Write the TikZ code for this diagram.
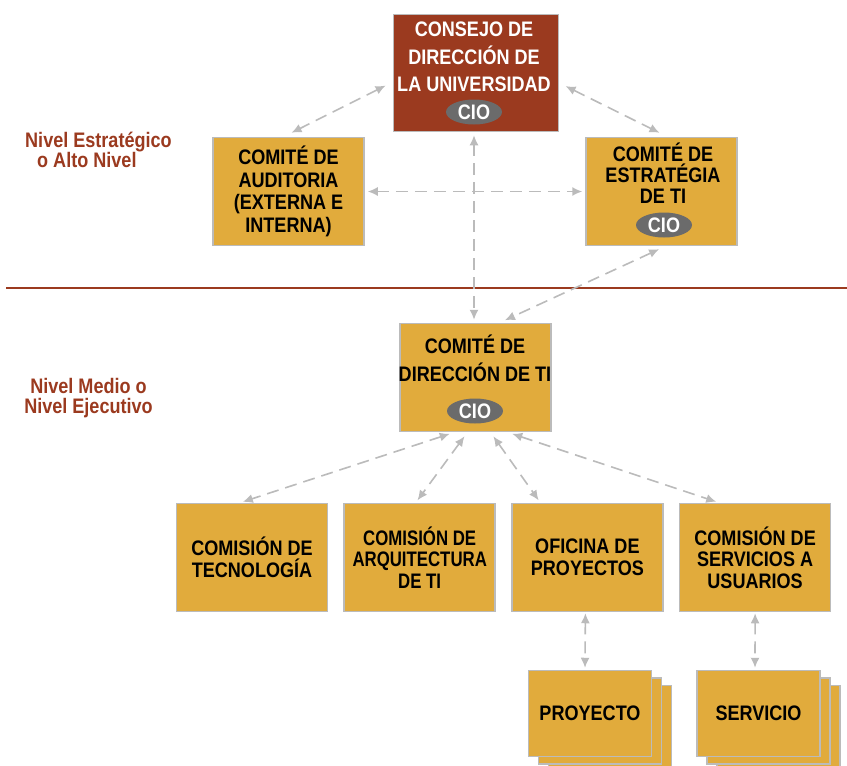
\documentclass[tikz,border=0pt]{standalone}
\usepackage{fontspec}
\setmainfont{Liberation Sans}[FakeStretch=0.86]
\usepackage{tikz}
\usetikzlibrary{shapes.geometric, arrows.meta, positioning}
\definecolor{ocre}{HTML}{E1AB3C}
\definecolor{vino}{HTML}{9B3A1F}
\definecolor{gris}{HTML}{BBBBBB}
\definecolor{griscio}{HTML}{6B6B6B}
\tikzstyle{blocko} = [rectangle, draw=gris, line width=1.5pt, fill=ocre, minimum width=151pt, minimum height=108pt, inner sep=1pt, align=center, font=\bfseries\fontsize{21}{21.5}\selectfont]
\tikzstyle{blockr} = [blocko, fill=vino, minimum width=165pt, minimum height=117pt]
\tikzstyle{blockp} = [blocko, minimum width=123pt, minimum height=86pt]
\tikzstyle{texto} = [align=center, inner sep=0pt, font=\bfseries\fontsize{21}{21}\selectfont]
\tikzstyle{cio} = [ellipse, fill=griscio, minimum width=56pt, minimum height=25pt, inner sep=0pt, text=white, font=\bfseries\fontsize{21}{21}\selectfont]
\tikzstyle{nivel} = [text=vino, inner sep=0pt, font=\bfseries\fontsize{21}{20}\selectfont]
\tikzstyle{line} = [draw=gris, line width=1.6pt, dash pattern=on 12pt off 7pt, <->, >={Latex[length=10pt,width=9pt]}, shorten <=3pt, shorten >=3pt]

\begin{document}
\begin{tikzpicture}[x=1pt, y=1pt, node distance=167.7pt]
\useasboundingbox (0,0) rectangle (847,-766);

\node [blockr] (C) at (476,-73) {};
\node [texto, text=white, font=\bfseries\fontsize{21}{27.5}\selectfont] (Ct) at (474,-57) {CONSEJO DE\\DIRECCIÓN DE\\LA UNIVERSIDAD};
\node [cio] (Ccio) at (474,-112) {CIO};

\node [blocko, font=\bfseries\fontsize{21}{22.7}\selectfont] (A) at (288.5,-191.5) {COMITÉ DE\\AUDITORIA\\(EXTERNA E\\INTERNA)};

\node [blocko] (E) at (661.5,-191.5) {};
\node [texto] (Et) at (663,-173.5) {COMITÉ DE\\ESTRATÉGIA\\DE TI};
\node [cio] (Ecio) at (664,-225) {CIO};

\node [nivel, align=left, anchor=north west] (N1) at (25,-132) {Nivel Estratégico\\\hspace*{12pt}o Alto Nivel};
\draw [vino, line width=2pt] (6,-288) -- (847,-288);
\node [nivel, align=center, anchor=north] (N2) at (88.5,-378) {Nivel Medio o\\Nivel Ejecutivo};

\node [blocko] (D) at (475.5,-377.5) {};
\node [texto, font=\bfseries\fontsize{21}{28}\selectfont] (Dt) at (475,-358) {COMITÉ DE\\DIRECCIÓN DE TI};
\node [cio] (Dcio) at (475,-411) {CIO};

\node [blocko] (T1) at (252,-557.5) {COMISIÓN DE\\TECNOLOGÍA};
\node [blocko, right of=T1, font=\bfseries\fontsize{21}{21.5}\selectfont\addfontfeatures{FakeStretch=0.8}] (T2) {COMISIÓN DE\\ARQUITECTURA\\DE TI};
\node [blocko, right of=T2] (T3) {OFICINA DE\\PROYECTOS};
\node [blocko, right of=T3] (T4) {COMISIÓN DE\\SERVICIOS A\\USUARIOS};

\node [blockp] (P3) at (610,-728.5) {};
\node [blockp] (P2) at (600,-721) {};
\node [blockp] (P) at (590,-713.5) {PROYECTO};
\node [blockp] (S3) at (778.5,-728.5) {};
\node [blockp] (S2) at (768.5,-721) {};
\node [blockp] (S) at (758.5,-713.5) {SERVICIO};

\path [line, shorten <=8pt, shorten >=9pt] ([yshift=-9pt]C.west) -- ([xshift=-5pt]A.north);
\path [line, shorten <=7pt, shorten >=9pt] ([yshift=-10pt]C.east) -- ([xshift=6pt]E.north);
\path [line] ([xshift=-2pt]C.south) -- ([xshift=-1.5pt]D.north);
\path [line] (A.east) -- (E.west);
\path [line, shorten <=7pt, shorten >=6pt] ([xshift=4pt]E.south) -- ([xshift=24pt]D.north);

\path [line, shorten <=5pt] ([xshift=-21pt]D.south) -- ([xshift=-12pt]T1.north);
\path [line, shorten <=5pt] ([xshift=-8pt]D.south) -- ([xshift=-4pt]T2.north);
\path [line, shorten <=5pt] ([xshift=15pt]D.south) -- ([xshift=-47pt]T3.north);
\path [line, shorten <=5pt] ([xshift=32pt]D.south) -- ([xshift=-36pt]T4.north);

\path [line, shorten <=1pt, shorten >=2pt] ([xshift=-2pt]T3.south) -- ([xshift=-5pt]P.north);
\path [line, shorten <=1pt, shorten >=2pt] ([xshift=0pt]T4.south) -- ([xshift=-3.5pt]S.north);

\end{tikzpicture}
\end{document}
